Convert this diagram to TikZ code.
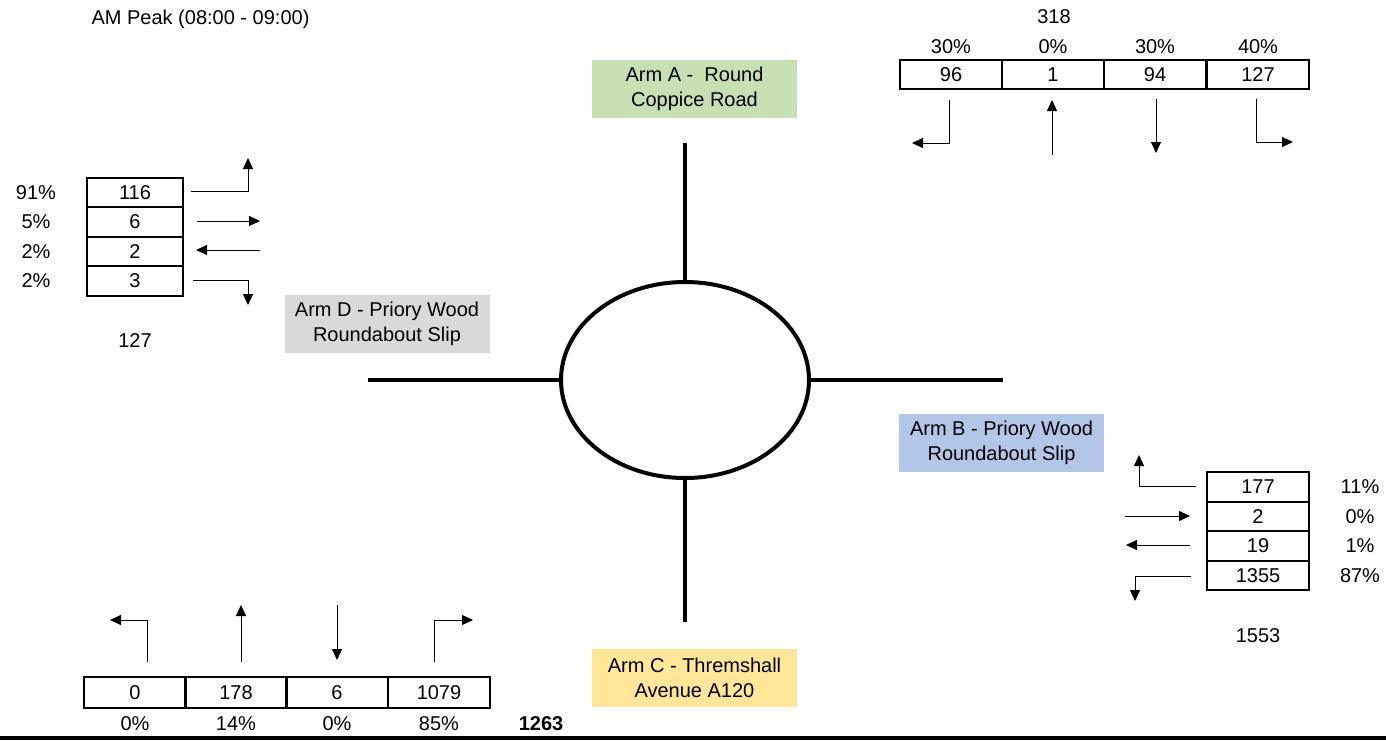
\documentclass[tikz,border=0pt]{standalone}
\usepackage{fontspec}
\setmainfont{Liberation Sans}
\usetikzlibrary{arrows.meta,shapes.geometric}

\definecolor{armAfill}{HTML}{C6E0B4}
\definecolor{armBfill}{HTML}{B4C6E7}
\definecolor{armCfill}{HTML}{FFE699}
\definecolor{armDfill}{HTML}{D9D9D9}

\begin{document}
\begin{tikzpicture}[
    x=0.5pt, y=-0.5pt,
    every node/.style={font=\fontsize{10}{12.5}\selectfont},
    cell/.style={draw, line width=1pt, minimum width=51pt,
                 minimum height=14.75pt, inner sep=0pt},
    sidecell/.style={cell, minimum width=48pt},
    armlabel/.style={minimum width=102.5pt, minimum height=29pt,
                     align=center, inner sep=0pt},
    arm/.style={line width=2pt},
    move/.style={line width=0.5pt, -{Triangle[length=5.5pt,width=5pt]}},
]
\useasboundingbox (0,0) rectangle (1386,740);

\node (title) at (200.5,19) {AM Peak (08:00 - 09:00)};

% Roundabout and its four arms
\node[draw, ellipse, arm, minimum width=124pt, minimum height=98pt,
      inner sep=0pt] (rbt) at (685,380) {};
\coordinate (armA) at (685,143);
\coordinate (armB) at (1003,380);
\coordinate (armC) at (685,622);
\coordinate (armD) at (368,380);
\draw[arm] (rbt) -- (armA);
\draw[arm] (rbt) -- (armB);
\draw[arm] (rbt) -- (armC);
\draw[arm] (rbt) -- (armD);

% Arm names
\node[armlabel, fill=armAfill] (labA) at (694.5,89) {Arm A -~ Round\\Coppice Road};
\node[armlabel, fill=armBfill] (labB) at (1001.5,442.5) {Arm B - Priory Wood\\Roundabout Slip};
\node[armlabel, fill=armCfill] (labC) at (694.5,678) {Arm C - Thremshall\\Avenue A120};
\node[armlabel, fill=armDfill] (labD) at (387,324) {Arm D - Priory Wood\\Roundabout Slip};

% Arm A (top right)
\node (totA) at (1054,17) {318};
\node[cell] (a1) at (951,74.5) {96};
\node[cell] (a2) at (1053,74.5) {1};
\node[cell] (a3) at (1155,74.5) {94};
\node[cell] (a4) at (1258,74.5) {127};
\node at (951,47) {30\%};
\node at (1053,47) {0\%};
\node at (1155,47) {30\%};
\node at (1258,47) {40\%};
\draw[move] (949,100) |- (912,143);
\draw[move] (1052,155) -- (1052,100);
\draw[move] (1156,99) -- (1156,153);
\draw[move] (1256,99) |- (1293,142);

% Arm D (left)
\node[sidecell] (d1) at (135,192.5) {116};
\node[sidecell] (d2) at (135,222) {6};
\node[sidecell] (d3) at (135,251.5) {2};
\node[sidecell] (d4) at (135,281) {3};
\node at (36,192.5) {91\%};
\node at (36,222) {5\%};
\node at (36,251.5) {2\%};
\node at (36,281) {2\%};
\draw[move] (191,191) -| (248,158);
\draw[move] (197,221) -- (260,221);
\draw[move] (260,250) -- (196,250);
\draw[move] (193,280) -| (248,305);
\node (totD) at (135,341) {127};

% Arm B (right)
\node[cell] (b1) at (1258,487) {177};
\node[cell] (b2) at (1258,516.5) {2};
\node[cell] (b3) at (1258,546) {19};
\node[cell] (b4) at (1258,575.5) {1355};
\node at (1360,487) {11\%};
\node at (1360,516.5) {0\%};
\node at (1360,546) {1\%};
\node at (1360,575.5) {87\%};
\draw[move] (1196,486) -| (1139,455);
\draw[move] (1125,516) -- (1190,516);
\draw[move] (1190,545) -- (1126,545);
\draw[move] (1191,576) -| (1135,601);
\node (totB) at (1258,636) {1553};

% Arm C (bottom left)
\node[cell, minimum height=15.5pt] (c1) at (135,692.5) {0};
\node[cell, minimum height=15.5pt] (c2) at (236,692.5) {178};
\node[cell, minimum height=15.5pt] (c3) at (337,692.5) {6};
\node[cell, minimum height=15.5pt] (c4) at (439,692.5) {1079};
\node at (135,724) {0\%};
\node at (236,724) {14\%};
\node at (337,724) {0\%};
\node at (439,724) {85\%};
\node[font=\fontsize{10}{12.5}\selectfont\bfseries] (totC) at (541,724) {1263};
\draw[move] (147,662) |- (110,620);
\draw[move] (241,662) -- (241,605);
\draw[move] (337,605) -- (337,660);
\draw[move] (434,662) |- (473,620);

% rule along the foot
\draw[line width=2pt] (0,737.5) -- (1386,737.5);

\end{tikzpicture}
\end{document}
